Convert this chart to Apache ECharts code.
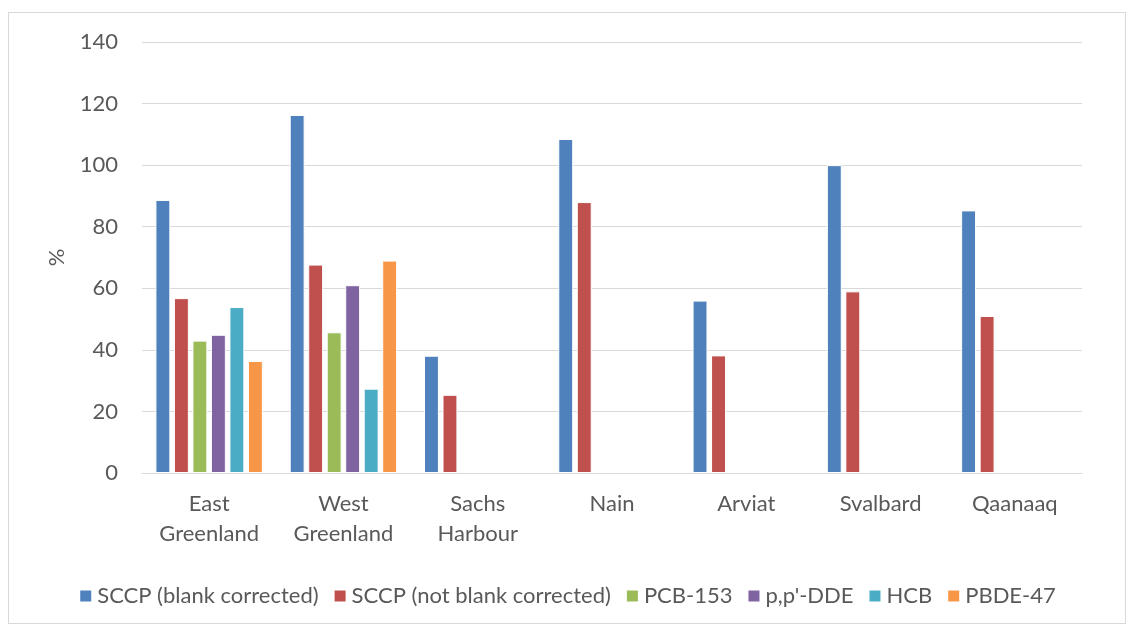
<!DOCTYPE html>
<html>
<head>
<meta charset="utf-8">
<script src="https://cdn.jsdelivr.net/npm/echarts@6/dist/echarts.min.js"></script>
<style>
  html, body { margin: 0; padding: 0; background: #fff; }
  #frame { position: absolute; left: 8px; top: 12px; width: 1118px; height: 612px; border: 1px solid #d9d9d9; box-sizing: border-box; }
  #chart { position: absolute; left: 0; top: 0; width: 1134px; height: 632px; }
</style>
</head>
<body>
<div id="frame"></div>
<div id="chart"></div>
<script>
const categories = ['East\nGreenland', 'West\nGreenland', 'Sachs\nHarbour', 'Nain', 'Arviat', 'Svalbard', 'Qaanaaq'];
const sccpBlankCorrected = [88.7, 116.3, 38.1, 108.5, 56.0, 100.0, 85.3];
const sccpNotBlankCorrected = [56.8, 67.7, 25.4, 88.0, 38.2, 59.0, 51.0];
const pcb153 = [43.0, 45.7, null, null, null, null, null];
const ppDDE = [44.9, 61.0, null, null, null, null, null];
const hcb = [53.9, 27.4, null, null, null, null, null];
const pbde47 = [36.4, 69.0, null, null, null, null, null];
const seriesNames = ['SCCP (blank corrected)', 'SCCP (not blank corrected)', 'PCB-153', "p,p'-DDE", 'HCB', 'PBDE-47'];
const seriesColors = ['#4f81bd', '#c0504d', '#9bbb59', '#8064a2', '#4bacc6', '#f79646'];
const seriesValues = [sccpBlankCorrected, sccpNotBlankCorrected, pcb153, ppDDE, hcb, pbde47];

const font = "Lato, 'Open Sans', sans-serif";
const textColor = '#595959';
const fontSize = 22;

const chart = echarts.init(document.getElementById('chart'), null, { renderer: 'canvas' });
chart.setOption({
  animation: false,
  textStyle: { fontFamily: font },
  grid: { left: 142, right: 52, top: 42, bottom: 159, containLabel: false },
  legend: {
    bottom: 20,
    left: 'center',
    itemWidth: 13,
    itemHeight: 13,
    itemGap: 14,
    icon: 'rect',
    textStyle: { fontFamily: font, fontSize: fontSize, color: textColor },
    data: seriesNames
  },
  xAxis: {
    type: 'category',
    data: categories,
    axisLine: { lineStyle: { color: '#d9d9d9', width: 1 } },
    axisTick: { show: false },
    axisLabel: { fontFamily: font, fontSize: fontSize, color: textColor, margin: 16, lineHeight: 30, interval: 0 }
  },
  yAxis: {
    type: 'value',
    min: 0,
    max: 140,
    interval: 20,
    name: '%',
    nameLocation: 'middle',
    nameGap: 74,
    nameRotate: 90,
    nameTextStyle: { fontFamily: font, fontSize: fontSize, color: textColor },
    axisLine: { show: false },
    axisTick: { show: false },
    axisLabel: { fontFamily: font, fontSize: fontSize, color: textColor, margin: 24 },
    splitLine: { lineStyle: { color: '#d9d9d9', width: 1 } }
  },
  series: seriesNames.map((name, i) => ({
    name: name,
    type: 'bar',
    data: seriesValues[i],
    barGap: '24%',
    barCategoryGap: '20%',
    itemStyle: { color: seriesColors[i], borderColor: '#ffffff', borderWidth: 1 }
  }))
});
</script>
</body>
</html>
